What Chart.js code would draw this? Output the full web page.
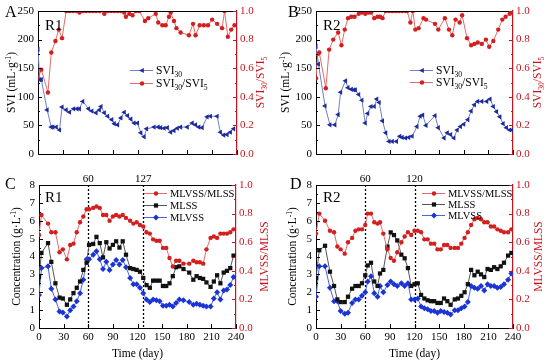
<!DOCTYPE html>
<html>
<head>
<meta charset="utf-8">
<script src="https://cdn.jsdelivr.net/npm/chart.js@4.4.0/dist/chart.umd.min.js"></script>
<style>
  html, body { margin: 0; padding: 0; background: #fff; }
  #wrap { position: relative; width: 550px; height: 363px; overflow: hidden; background: #fff; }
  canvas { position: absolute; }
</style>
</head>
<body>
<div id="wrap">
  <canvas id="chartA" width="275" height="172" style="left:0;top:0"></canvas>
  <canvas id="chartB" width="275" height="172" style="left:275px;top:0"></canvas>
  <canvas id="chartC" width="275" height="191" style="left:0;top:172px"></canvas>
  <canvas id="chartD" width="275" height="191" style="left:275px;top:172px"></canvas>
</div>
<script>
// ---- data ----
// A: R1 sludge volume index
const svi30DaysR1 = [0, 2, 4, 11, 16, 18, 22, 26, 29, 34, 38, 43, 47, 50, 54, 61, 65, 70, 74, 76, 80, 84, 89, 92, 96, 100, 104, 108, 112, 116, 120, 124, 128, 131, 140, 145, 148, 152, 156, 160, 164, 168, 172, 180, 186, 190, 194, 198, 204, 208, 216, 220, 224, 228, 232, 236];
const svi30R1 = [183, 130, 130, 77, 47, 47, 47, 42, 82, 77, 73, 79, 79, 79, 92, 79, 75, 72, 77, 83, 72, 66, 60, 53, 51, 63, 73, 67, 61, 54, 54, 37, 30, 44, 47, 47, 46, 45, 46, 38, 41, 45, 47, 47, 54, 51, 47, 46, 65, 66, 66, 38, 33, 34, 38, 44];
const sviRatioDaysR1 = [0, 4, 12, 16, 21, 25, 29, 34, 38, 42, 46, 50, 54, 58, 62, 66, 70, 74, 80, 84, 88, 92, 96, 100, 104, 106, 110, 114, 118, 122, 129, 133, 142, 145, 150, 154, 158, 160, 164, 167, 172, 182, 187, 190, 195, 200, 205, 210, 216, 222, 225, 229, 233, 237];
const sviRatioR1 = [0.53, 0.59, 0.43, 0.71, 0.79, 0.87, 0.81, 1.0, 1.0, 1.0, 1.0, 0.99, 1.0, 1.0, 1.0, 1.0, 1.0, 1.0, 0.98, 1.0, 1.0, 1.0, 1.0, 1.0, 0.99, 0.96, 0.98, 0.97, 1.0, 1.0, 0.93, 0.95, 0.98, 0.92, 0.9, 0.9, 0.96, 0.99, 0.93, 0.88, 0.85, 0.83, 0.91, 0.83, 0.9, 0.9, 0.9, 0.94, 0.91, 0.88, 1.0, 0.82, 0.87, 0.9];

// B: R2 sludge volume index
const svi30DaysR2 = [0, 3, 11, 17, 23, 27, 30, 36, 39, 43, 46, 48, 52, 56, 60, 63, 67, 71, 74, 77, 81, 85, 89, 93, 98, 102, 105, 109, 113, 117, 123, 127, 130, 134, 145, 149, 156, 160, 164, 168, 172, 176, 180, 185, 189, 193, 197, 202, 208, 212, 216, 220, 224, 228, 232, 236, 239];
const svi30R2 = [188, 157, 84, 51, 51, 69, 108, 128, 116, 113, 112, 112, 104, 94, 54, 71, 83, 83, 96, 90, 58, 37, 22, 22, 22, 31, 29, 28, 29, 31, 48, 66, 68, 50, 67, 46, 28, 37, 34, 28, 42, 48, 52, 60, 75, 86, 92, 92, 92, 96, 83, 74, 65, 53, 46, 42, 42];
const sviRatioDaysR2 = [0, 2, 4, 12, 16, 21, 27, 31, 35, 39, 43, 47, 52, 56, 60, 64, 67, 71, 75, 78, 81, 85, 89, 93, 97, 101, 105, 109, 111, 115, 118, 121, 125, 131, 134, 145, 149, 157, 162, 166, 170, 175, 178, 184, 189, 193, 197, 202, 207, 211, 216, 222, 227, 231, 236, 239];
const sviRatioR2 = [0.53, 0.7, 0.71, 0.46, 0.73, 0.8, 0.85, 0.76, 0.87, 0.95, 0.96, 0.96, 0.98, 0.99, 0.98, 0.99, 0.99, 0.95, 0.96, 0.96, 0.95, 1.0, 1.0, 1.0, 1.0, 1.0, 1.0, 1.0, 1.0, 0.92, 1.0, 0.87, 0.88, 0.95, 0.94, 0.91, 0.87, 0.95, 0.87, 0.83, 0.94, 0.92, 0.97, 0.81, 0.76, 0.77, 0.78, 0.77, 0.8, 0.75, 0.79, 0.87, 0.94, 0.96, 0.98, 0.99];

// C: R1 solids
const daysR1 = [0, 3, 11, 15, 20, 25, 29, 34, 38, 42, 46, 50, 54, 58, 61, 66, 70, 74, 78, 82, 86, 90, 94, 98, 102, 106, 111, 115, 119, 123, 127, 131, 135, 139, 143, 147, 151, 155, 159, 163, 167, 171, 176, 183, 188, 192, 196, 200, 204, 209, 213, 217, 221, 225, 229, 233, 237];
const mlvssRatioR1 = [0.65, 0.79, 0.73, 0.67, 0.67, 0.53, 0.55, 0.48, 0.58, 0.59, 0.67, 0.74, 0.78, 0.83, 0.83, 0.84, 0.85, 0.84, 0.79, 0.79, 0.75, 0.78, 0.79, 0.78, 0.79, 0.77, 0.75, 0.73, 0.74, 0.72, 0.71, 0.67, 0.66, 0.62, 0.61, 0.61, 0.56, 0.56, 0.49, 0.43, 0.47, 0.47, 0.45, 0.45, 0.47, 0.46, 0.46, 0.45, 0.55, 0.63, 0.64, 0.63, 0.66, 0.66, 0.66, 0.67, 0.69];
const mlssR1 = [2.85, 4.2, 4.75, 3.7, 2.5, 1.7, 1.65, 1.3, 1.6, 1.95, 2.25, 2.6, 3.25, 3.65, 4.65, 4.7, 5.1, 4.75, 3.95, 4.8, 4.45, 4.65, 4.85, 4.5, 4.85, 4.1, 3.35, 3.3, 3.25, 3.15, 2.8, 2.4, 2.25, 2.65, 2.65, 2.65, 2.35, 2.35, 2.5, 2.9, 3.4, 3.45, 3.3, 3.1, 2.7, 2.9, 2.8, 2.75, 2.55, 2.3, 2.6, 2.95, 2.5, 3.1, 3.2, 3.35, 4.05];
const mlvssR1 = [1.85, 3.35, 3.45, 2.2, 1.6, 0.93, 0.87, 0.65, 1.0, 1.2, 1.5, 1.95, 2.7, 3.85, 3.85, 4.1, 4.3, 3.85, 3.3, 3.7, 3.25, 3.55, 3.8, 3.55, 3.8, 3.4, 2.8, 2.45, 2.45, 2.25, 1.95, 1.6, 1.45, 1.6, 1.55, 1.5, 1.25, 1.25, 1.3, 1.2, 1.4, 1.6, 1.55, 1.45, 1.3, 1.35, 1.3, 1.25, 1.2, 1.2, 1.65, 2.0, 1.6, 2.1, 2.15, 2.4, 2.85];
const phaseDaysR1 = [60, 127];

// D: R2 solids
const daysR2 = [0, 4, 11, 17, 22, 26, 30, 35, 39, 44, 48, 52, 56, 60, 63, 67, 71, 75, 78, 82, 87, 91, 95, 99, 104, 108, 112, 116, 120, 124, 128, 132, 136, 140, 144, 148, 152, 156, 160, 164, 169, 173, 177, 181, 185, 189, 193, 197, 201, 205, 209, 213, 217, 221, 225, 229, 234, 238];
const mlvssRatioR2 = [0.66, 0.8, 0.75, 0.68, 0.67, 0.57, 0.55, 0.52, 0.6, 0.63, 0.68, 0.69, 0.69, 0.72, 0.8, 0.8, 0.74, 0.73, 0.74, 0.66, 0.55, 0.49, 0.47, 0.53, 0.6, 0.64, 0.67, 0.65, 0.68, 0.68, 0.67, 0.62, 0.62, 0.59, 0.59, 0.55, 0.55, 0.58, 0.58, 0.56, 0.56, 0.56, 0.59, 0.63, 0.67, 0.72, 0.76, 0.77, 0.76, 0.74, 0.74, 0.71, 0.71, 0.69, 0.68, 0.67, 0.67, 0.69];
const mlssR2 = [2.8, 4.35, 4.6, 3.15, 2.35, 1.6, 1.45, 1.45, 1.75, 2.2, 2.35, 2.35, 2.5, 2.95, 3.5, 3.65, 2.6, 2.35, 3.05, 3.25, 4.55, 5.35, 5.2, 4.9, 4.1, 3.9, 3.35, 2.35, 2.45, 2.5, 1.85, 1.65, 1.55, 1.5, 1.5, 1.4, 1.4, 1.65, 1.5, 1.3, 1.6, 1.65, 1.8, 2.0, 2.45, 3.25, 2.95, 3.15, 3.0, 2.85, 3.3, 3.25, 3.4, 3.3, 3.45, 3.65, 4.05, 4.2];
const mlvssR2 = [1.75, 3.45, 3.45, 2.25, 1.5, 1.5, 0.95, 0.8, 0.85, 1.4, 1.6, 1.6, 1.8, 2.0, 2.6, 2.9, 1.95, 1.75, 2.35, 2.0, 2.4, 2.6, 2.45, 2.35, 2.5, 2.35, 2.5, 1.6, 1.6, 1.65, 1.2, 1.1, 1.05, 0.95, 0.95, 0.85, 0.95, 0.9, 0.85, 0.75, 1.0, 1.0, 1.1, 1.2, 1.45, 2.35, 2.25, 2.2, 2.35, 2.1, 2.45, 2.35, 2.35, 2.25, 2.3, 2.45, 2.7, 3.05];
const phaseDaysR2 = [60, 120];

const dayTicks = [0, 30, 60, 90, 120, 150, 180, 210, 240];

// ---- styling ----
const FONT = '"Liberation Serif", "Times New Roman", serif';
const RED_AXIS = '#c8141e';

const styles = {
  svi30: { borderColor: '#6f7fc6', pointBackgroundColor: '#1c2a9e', pointStyle: 'triangle', pointRotation: -90, pointRadius: 3 },
  ratio: { borderColor: '#e36a6a', pointBackgroundColor: '#d31f1f', pointStyle: 'circle', pointRadius: 2.2 },
  mlss: { borderColor: '#555', pointBackgroundColor: '#111', pointStyle: 'rect', pointRadius: 3 },
  mlvss: { borderColor: '#4a64de', pointBackgroundColor: '#1a34d6', pointStyle: 'rectRot', pointRadius: 3 }
};

function series(days, vals, axis, style) {
  return Object.assign({
    data: days.map((d, i) => ({ x: d, y: vals[i] })),
    yAxisID: axis,
    borderWidth: 1,
    pointBorderWidth: 0,
    pointHoverRadius: 0,
    tension: 0
  }, style);
}

// text with sub/superscripts: parts = [[text, 0 normal | 1 sub | 2 sup], ...]
function richWidth(ctx, parts, size) {
  let w = 0;
  parts.forEach(([t, m]) => {
    ctx.font = (m ? size * 0.66 : size) + 'px ' + FONT;
    w += ctx.measureText(t).width;
  });
  return w;
}
function drawRich(ctx, parts, x, y, size, color) {
  ctx.fillStyle = color;
  ctx.textAlign = 'left';
  ctx.textBaseline = 'alphabetic';
  parts.forEach(([t, m]) => {
    ctx.font = (m ? size * 0.66 : size) + 'px ' + FONT;
    const dy = m === 1 ? size * 0.25 : m === 2 ? -size * 0.38 : 0;
    ctx.fillText(t, x, y + dy);
    x += ctx.measureText(t).width;
  });
}
function drawRotated(ctx, parts, cx, cy, size, color) {
  ctx.save();
  ctx.translate(cx, cy);
  ctx.rotate(-Math.PI / 2);
  const w = richWidth(ctx, parts, size);
  drawRich(ctx, parts, -w / 2, size * 0.35, size, color);
  ctx.restore();
}
function drawMarker(ctx, ds, x, y) {
  const r = ds.pointRadius;
  ctx.fillStyle = ds.pointBackgroundColor;
  ctx.beginPath();
  if (ds.pointStyle === 'circle') {
    ctx.arc(x, y, r, 0, Math.PI * 2);
  } else if (ds.pointStyle === 'rect') {
    const s = r * Math.SQRT1_2;
    ctx.rect(x - s, y - s, 2 * s, 2 * s);
  } else if (ds.pointStyle === 'rectRot') {
    ctx.moveTo(x, y - r); ctx.lineTo(x + r, y); ctx.lineTo(x, y + r); ctx.lineTo(x - r, y);
  } else {
    ctx.moveTo(x - r, y); ctx.lineTo(x + r * 0.6, y - r * 0.85); ctx.lineTo(x + r * 0.6, y + r * 0.85);
  }
  ctx.closePath();
  ctx.fill();
}

const SVI30 = [['SVI', 0], ['30', 1]];
const SVIRATIO = [['SVI', 0], ['30', 1], ['/SVI', 0], ['5', 1]];

const decorCfg = {
  chartA: {
    letter: 'A', letterX: 5, tag: 'R1', tagX: 45, tagY: 30, yStep: 50,
    leftTitle: [['SVI (mL·g', 0], ['-1', 2], [')', 0]], leftTitleX: 11,
    rightTitle: SVIRATIO, rightTitleX: 260,
    legend: { x: 130, y: 70, gap: 13, size: 11.5, items: [{ ds: 0, text: SVI30 }, { ds: 1, text: SVIRATIO }] },
    vlines: []
  },
  chartB: {
    letter: 'B', letterX: 13, tag: 'R2', tagX: 48, tagY: 30, yStep: 50,
    leftTitle: [['SVI (mL·g', 0], ['-1', 2], [')', 0]], leftTitleX: 10,
    rightTitle: SVIRATIO, rightTitleX: 262,
    legend: { x: 135, y: 70, gap: 12, size: 11.5, items: [{ ds: 0, text: SVI30 }, { ds: 1, text: SVIRATIO }] },
    vlines: []
  },
  chartC: {
    letter: 'C', letterX: 5, tag: 'R1', tagX: 45, tagY: 30, yStep: 1,
    leftTitle: [['Concentration (g·L', 0], ['-1', 2], [')', 0]], leftTitleX: 16,
    rightTitle: [['MLVSS/MLSS', 0]], rightTitleX: 264,
    legend: { x: 144, y: 21, gap: 12, size: 10.5, items: [{ ds: 0, text: [['MLVSS/MLSS', 0]] }, { ds: 1, text: [['MLSS', 0]] }, { ds: 2, text: [['MLVSS', 0]] }] },
    vlines: phaseDaysR1
  },
  chartD: {
    letter: 'D', letterX: 15, tag: 'R2', tagX: 48, tagY: 30, yStep: 1,
    leftTitle: [['Concentration (g·L', 0], ['-1', 2], [')', 0]], leftTitleX: 17,
    rightTitle: [['MLVSS/MLSS', 0]], rightTitleX: 263,
    legend: { x: 147, y: 21, gap: 11, size: 10.5, items: [{ ds: 0, text: [['MLVSS/MLSS', 0]] }, { ds: 1, text: [['MLSS', 0]] }, { ds: 2, text: [['MLVSS', 0]] }] },
    vlines: phaseDaysR2
  }
};

function seg(ctx, x1, y1, x2, y2) {
  ctx.beginPath(); ctx.moveTo(x1, y1); ctx.lineTo(x2, y2); ctx.stroke();
}

const decor = {
  id: 'decor',
  beforeDatasetsDraw(chart) {
    const c = decorCfg[chart.canvas.id];
    const ctx = chart.ctx, a = chart.chartArea, xs = chart.scales.x;
    ctx.save();
    ctx.strokeStyle = '#000';
    ctx.lineWidth = 1.3;
    ctx.setLineDash([2, 2]);
    c.vlines.forEach(d => {
      const px = Math.round(xs.getPixelForValue(d)) + 0.5;
      seg(ctx, px, a.top, px, a.bottom);
    });
    ctx.setLineDash([]);
    ctx.fillStyle = '#000';
    ctx.font = '11px ' + FONT;
    ctx.textAlign = 'center';
    ctx.textBaseline = 'alphabetic';
    c.vlines.forEach(d => ctx.fillText(String(d), xs.getPixelForValue(d), a.top - 3));
    ctx.restore();
  },
  afterDraw(chart) {
    const c = decorCfg[chart.canvas.id];
    const ctx = chart.ctx, a = chart.chartArea;
    const xs = chart.scales.x, ys = chart.scales.y, yr = chart.scales.y1;
    ctx.save();
    ctx.lineWidth = 1;
    ctx.strokeStyle = '#000';
    seg(ctx, a.left, a.top + 0.5, a.right, a.top + 0.5);
    // inward ticks
    xs.ticks.forEach(t => {
      const px = Math.round(xs.getPixelForValue(t.value)) + 0.5;
      seg(ctx, px, a.bottom, px, a.bottom - 4);
    });
    ys.ticks.forEach((t, i) => {
      const py = Math.round(ys.getPixelForValue(t.value)) + 0.5;
      seg(ctx, a.left, py, a.left + 4, py);
      if (i < ys.ticks.length - 1) {
        const pm = Math.round(ys.getPixelForValue(t.value + c.yStep / 2)) + 0.5;
        seg(ctx, a.left, pm, a.left + 2, pm);
      }
    });
    ctx.strokeStyle = RED_AXIS;
    yr.ticks.forEach((t, i) => {
      const py = Math.round(yr.getPixelForValue(t.value)) + 0.5;
      seg(ctx, a.right, py, a.right - 4, py);
      if (i < yr.ticks.length - 1) {
        const pm = Math.round(yr.getPixelForValue(t.value + 0.1)) + 0.5;
        seg(ctx, a.right, pm, a.right - 2, pm);
      }
    });
    // titles
    const mid = (a.top + a.bottom) / 2;
    drawRotated(ctx, c.leftTitle, c.leftTitleX, mid, 11.5, '#000');
    drawRotated(ctx, c.rightTitle, c.rightTitleX, mid, 11.5, RED_AXIS);
    // panel letter and reactor tag
    ctx.fillStyle = '#000';
    ctx.textAlign = 'left';
    ctx.textBaseline = 'alphabetic';
    ctx.font = '16px ' + FONT;
    ctx.fillText(c.letter, c.letterX, 17);
    ctx.font = '15px ' + FONT;
    ctx.fillText(c.tag, c.tagX, c.tagY);
    // legend
    const lg = c.legend;
    lg.items.forEach((it, i) => {
      const ds = chart.data.datasets[it.ds];
      const y = lg.y + i * lg.gap;
      ctx.strokeStyle = ds.borderColor;
      ctx.lineWidth = 1;
      seg(ctx, lg.x, y + 0.5, lg.x + 23, y + 0.5);
      drawMarker(ctx, ds, lg.x + 12, y + 0.5);
      drawRich(ctx, it.text, lg.x + 26, y + 4, lg.size, '#000');
    });
    ctx.restore();
  }
};

function makeChart(id, datasets, opt) {
  const tickFont = { family: FONT, size: 11 };
  return new Chart(document.getElementById(id), {
    type: 'line',
    data: { datasets },
    options: {
      responsive: false,
      animation: false,
      events: [],
      layout: { padding: { top: opt.padTop, left: 0, right: 0, bottom: 0 } },
      plugins: { legend: { display: false }, tooltip: { enabled: false } },
      scales: {
        x: {
          type: 'linear', min: 0, max: 240,
          afterBuildTicks: s => { s.ticks = dayTicks.map(v => ({ value: v })); },
          ticks: { display: opt.xLabels, font: tickFont, color: '#000', padding: 3, maxRotation: 0 },
          grid: { display: false, drawTicks: false },
          border: { color: '#000', width: 1 },
          title: { display: opt.xLabels, text: 'Time (day)', color: '#000', font: { family: FONT, size: 11.5 }, padding: { top: 1, bottom: 2 } },
          afterFit: s => { s.height = opt.xHeight; s.paddingLeft = 0; s.paddingRight = 0; }
        },
        y: {
          position: 'left', min: 0, max: opt.yMax,
          ticks: { stepSize: opt.yStep, font: tickFont, color: '#000', padding: 4 },
          grid: { display: false, drawTicks: false },
          border: { color: '#000', width: 1 },
          afterFit: s => { s.width = opt.leftW; s.paddingTop = 0; s.paddingBottom = 0; }
        },
        y1: {
          position: 'right', min: 0, max: 1,
          ticks: { stepSize: 0.2, font: tickFont, color: RED_AXIS, padding: 3, callback: v => v.toFixed(1) },
          grid: { display: false, drawTicks: false },
          border: { color: RED_AXIS, width: 1.2 },
          afterFit: s => { s.width = opt.rightW; s.paddingTop = 0; s.paddingBottom = 0; }
        }
      }
    },
    plugins: [decor]
  });
}

makeChart('chartA', [
  series(svi30DaysR1, svi30R1, 'y', styles.svi30),
  series(sviRatioDaysR1, sviRatioR1, 'y1', styles.ratio)
], { padTop: 11, xHeight: 18, leftW: 38, rightW: 38, yMax: 250, yStep: 50, xLabels: false });

makeChart('chartB', [
  series(svi30DaysR2, svi30R2, 'y', styles.svi30),
  series(sviRatioDaysR2, sviRatioR2, 'y1', styles.ratio)
], { padTop: 11, xHeight: 18, leftW: 41, rightW: 37, yMax: 250, yStep: 50, xLabels: false });

makeChart('chartC', [
  series(daysR1, mlvssRatioR1, 'y1', styles.ratio),
  series(daysR1, mlssR1, 'y', styles.mlss),
  series(daysR1, mlvssR1, 'y', styles.mlvss)
], { padTop: 13, xHeight: 35, leftW: 39, rightW: 39, yMax: 8, yStep: 1, xLabels: true });

makeChart('chartD', [
  series(daysR2, mlvssRatioR2, 'y1', styles.ratio),
  series(daysR2, mlssR2, 'y', styles.mlss),
  series(daysR2, mlvssR2, 'y', styles.mlvss)
], { padTop: 13, xHeight: 35, leftW: 41, rightW: 37, yMax: 8, yStep: 1, xLabels: true });
</script>
</body>
</html>
